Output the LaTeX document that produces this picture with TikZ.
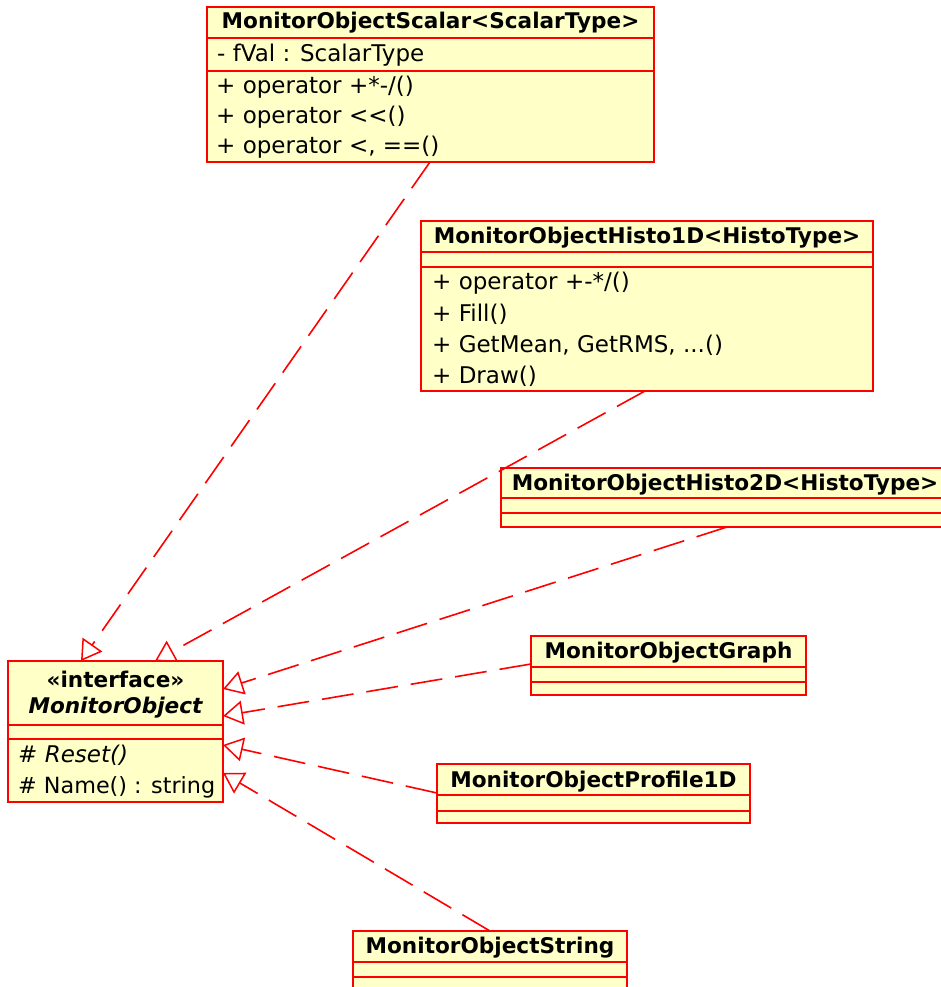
\documentclass[tikz,border=0pt]{standalone}
\usepackage{fontspec}
\setmainfont{DejaVu Sans}
\usetikzlibrary{arrows.meta}
\definecolor{umlfill}{RGB}{255,255,200}
\definecolor{umlred}{RGB}{255,0,0}
\begin{document}
\begin{tikzpicture}[x=1pt,y=-1pt,
  cls/.style={draw=umlred, fill=umlfill, line width=2pt, anchor=north west, inner sep=0pt, outer sep=0pt},
  sepline/.style={draw=umlred, line width=2pt},
  hdr/.style={font=\fontsize{21.6}{24}\selectfont\bfseries, inner sep=0pt, text=black},
  row/.style={font=\fontsize{23}{26}\selectfont, anchor=west, inner sep=0pt, text=black},
  realize/.style={draw=umlred, line width=1.6pt, dash pattern=on 32pt off 13pt,
    -{Triangle[open, length=20pt, width=24pt, line width=1.5pt]}}
]
\useasboundingbox (0,0) rectangle (941,987);
\clip (0,0) rectangle (941,987);

% MonitorObjectScalar
\node[cls, minimum width=447pt, minimum height=155pt] (scalar) at (207,7) {};
\draw[sepline] ([yshift=-31pt]scalar.north west) -- ([yshift=-31pt]scalar.north east);
\draw[sepline] ([yshift=-64pt]scalar.north west) -- ([yshift=-64pt]scalar.north east);
\node[hdr] (scalarT) at (430.5,23) {MonitorObjectScalar<ScalarType>};
\node[row] (scalarA) at (217,55) {- fVal : ScalarType};
\node[row] (scalarO1) at (216,87) {+ operator +*-/()};
\node[row] (scalarO2) at (216,117) {+ operator <{}<()};
\node[row] (scalarO3) at (216,147) {+ operator <, ==()};

% MonitorObjectHisto1D
\node[cls, minimum width=452pt, minimum height=170pt] (h1) at (421,221) {};
\draw[sepline] ([yshift=-31pt]h1.north west) -- ([yshift=-31pt]h1.north east);
\draw[sepline] ([yshift=-46pt]h1.north west) -- ([yshift=-46pt]h1.north east);
\node[hdr] (h1T) at (647,238) {MonitorObjectHisto1D<HistoType>};
\node[row] (h1O1) at (432,283) {+ operator +-*/()};
\node[row] (h1O2) at (432,314) {+ Fill()};
\node[row] (h1O3) at (432,345) {+ GetMean, GetRMS, ...()};
\node[row] (h1O4) at (432,376) {+ Draw()};

% MonitorObjectHisto2D
\node[cls, minimum width=448pt, minimum height=59pt] (h2) at (501,468) {};
\draw[sepline] ([yshift=-30pt]h2.north west) -- ([yshift=-30pt]h2.north east);
\draw[sepline] ([yshift=-45pt]h2.north west) -- ([yshift=-45pt]h2.north east);
\node[hdr] (h2T) at (725,485) {MonitorObjectHisto2D<HistoType>};

% MonitorObjectGraph
\node[cls, minimum width=275pt, minimum height=59pt] (graph) at (531,636) {};
\draw[sepline] ([yshift=-31pt]graph.north west) -- ([yshift=-31pt]graph.north east);
\draw[sepline] ([yshift=-46pt]graph.north west) -- ([yshift=-46pt]graph.north east);
\node[hdr] (graphT) at (668.5,653) {MonitorObjectGraph};

% MonitorObjectProfile1D
\node[cls, minimum width=313pt, minimum height=59pt] (prof) at (437,764) {};
\draw[sepline] ([yshift=-31pt]prof.north west) -- ([yshift=-31pt]prof.north east);
\draw[sepline] ([yshift=-47pt]prof.north west) -- ([yshift=-47pt]prof.north east);
\node[hdr] (profT) at (593.5,782) {MonitorObjectProfile1D};

% MonitorObjectString
\node[cls, minimum width=274pt, minimum height=80pt] (str) at (353,931) {};
\draw[sepline] ([yshift=-31pt]str.north west) -- ([yshift=-31pt]str.north east);
\draw[sepline] ([yshift=-46pt]str.north west) -- ([yshift=-46pt]str.north east);
\node[hdr] (strT) at (490,948) {MonitorObjectString};

% MonitorObject interface
\node[cls, minimum width=215pt, minimum height=141pt] (iface) at (8,661) {};
\draw[sepline] ([yshift=-64pt]iface.north west) -- ([yshift=-64pt]iface.north east);
\draw[sepline] ([yshift=-78pt]iface.north west) -- ([yshift=-78pt]iface.north east);
\node[hdr] (ifaceS) at (115.5,679) {«interface»};
\node[hdr, font=\fontsize{21.6}{24}\selectfont\bfseries\itshape] (ifaceT) at (115.5,708) {MonitorObject};
\node[row, font=\fontsize{23}{26}\selectfont\itshape] (ifaceO1) at (18,755) {\# Reset()};
\node[row, font=\fontsize{22.3}{26}\selectfont] (ifaceO2) at (18,787) {\# Name() : string};

% realizations
\draw[realize] ([xshift=223pt]scalar.south west) -- ([xshift=73pt]iface.north west);
\draw[realize] ([xshift=224pt]h1.south west) -- ([xshift=147pt]iface.north west);
\draw[realize] ([xshift=226pt]h2.south west) -- ([yshift=-28pt]iface.north east);
\draw[realize] ([yshift=-28pt]graph.north west) -- ([yshift=-55pt]iface.north east);
\draw[realize] ([yshift=-29pt]prof.north west) -- ([yshift=-84pt]iface.north east);
\draw[realize] ([xshift=137pt]str.north west) -- ([yshift=-112pt]iface.north east);
\end{tikzpicture}
\end{document}
